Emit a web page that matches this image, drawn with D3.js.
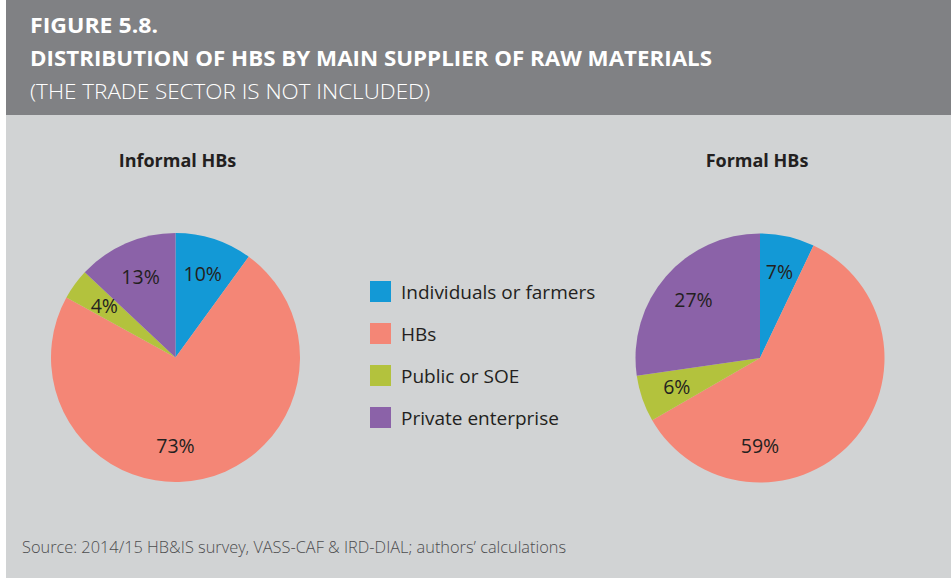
<!DOCTYPE html>
<html>
<head>
<meta charset="utf-8">
<script src="https://cdn.jsdelivr.net/npm/d3@7"></script>
<style>
  body { margin: 0; background: #ffffff; }
  svg { display: block; font-family: 'Open Sans', 'Noto Sans', sans-serif; }
</style>
</head>
<body>
<svg id="chart" width="951" height="578"></svg>
<script>
// data
const categories = ['Individuals or farmers', 'HBs', 'Public or SOE', 'Private enterprise'];
const informal_values = [10, 73, 4, 13];
const formal_values = [7, 59, 6, 27];
const pie_titles = ['Informal HBs', 'Formal HBs'];
const title_lines = [
  'FIGURE 5.8.',
  'DISTRIBUTION OF HBS BY MAIN SUPPLIER OF RAW MATERIALS',
  '(THE TRADE SECTOR IS NOT INCLUDED)',
];
const source_text = 'Source: 2014/15 HB&IS survey, VASS-CAF & IRD-DIAL; authors\u2019 calculations';

const colors = ['#1399d6', '#f48676', '#b3c23d', '#8b62a8'];

const width = 951;
const height = 578;
const svg = d3.select('#chart');

/**
 * Background panels
 */
svg.append('rect')
  .attr('x', 6).attr('y', 0)
  .attr('width', width - 6).attr('height', 115)
  .attr('fill', '#808184');

svg.append('rect')
  .attr('x', 6).attr('y', 115)
  .attr('width', width - 6).attr('height', height - 115)
  .attr('fill', '#d1d3d4');

/**
 * Header text
 */
const title_widths = [128, 682, 400];
svg.selectAll('.title_line')
  .data(title_lines)
  .enter()
  .append('text')
  .attr('class', 'title_line')
  .attr('x', 30)
  .attr('y', (d, i) => 33 + i * 33)
  .attr('fill', '#ffffff')
  .attr('font-size', 21)
  .attr('font-weight', (d, i) => (i < 2 ? 700 : 300))
  .attr('textLength', (d, i) => title_widths[i])
  .attr('lengthAdjust', 'spacingAndGlyphs')
  .text((d) => d);

/**
 * Pies
 */
const color = d3.scaleOrdinal().domain(categories).range(colors);
const radius = 124.5;
const pie = d3.pie().sort(null).value((d) => d.value);
const arc = d3.arc().innerRadius(0).outerRadius(radius);
const label_r = 88;

const pie_centers = [[175.5, 357.5], [760, 358]];
const pie_data = [informal_values, formal_values];

pie_data.forEach((values, k) => {
  const rows = categories.map((c, i) => ({ name: c, value: values[i] }));
  const arcs = pie(rows);
  const g = svg.append('g')
    .attr('transform', `translate(${pie_centers[k][0]},${pie_centers[k][1]})`);

  g.selectAll('.slice')
    .data(arcs)
    .enter()
    .append('path')
    .attr('class', 'slice')
    .attr('d', arc)
    .attr('fill', (d) => color(d.data.name));

  // largest slice gets its label straight below the centre
  const biggest = d3.max(arcs, (d) => d.value);
  g.selectAll('.pct')
    .data(arcs)
    .enter()
    .append('text')
    .attr('class', 'pct')
    .attr('transform', (d) => {
      let a = (d.startAngle + d.endAngle) / 2;
      if (d.value === biggest && d.startAngle < Math.PI && d.endAngle > Math.PI) a = Math.PI;
      return `translate(${label_r * Math.sin(a)},${-label_r * Math.cos(a)})`;
    })
    .attr('text-anchor', 'middle')
    .attr('dy', '0.36em')
    .attr('font-size', 19.5)
    .attr('fill', '#231f20')
    .text((d) => d.data.value + '%');

  svg.append('text')
    .attr('x', pie_centers[k][0] + (k === 0 ? 2 : -3))
    .attr('y', 167)
    .attr('text-anchor', 'middle')
    .attr('font-size', 18)
    .attr('font-weight', 700)
    .attr('fill', '#231f20')
    .text(pie_titles[k]);
});

/**
 * Legend
 */
const legend = svg.append('g').attr('transform', 'translate(370,281)');
const leg = legend.selectAll('.leg')
  .data(categories)
  .enter()
  .append('g')
  .attr('class', 'leg')
  .attr('transform', (d, i) => `translate(0,${i * 42})`);

leg.append('rect')
  .attr('width', 21)
  .attr('height', 21)
  .attr('fill', (d) => color(d));

leg.append('text')
  .attr('x', 31)
  .attr('y', 17.5)
  .attr('font-size', 19)
  .attr('fill', '#231f20')
  .text((d) => d);

/**
 * Source note
 */
svg.append('text')
  .attr('x', 22)
  .attr('y', 553)
  .attr('font-size', 15.5)
  .attr('font-weight', 300)
  .attr('fill', '#4d4d4f')
  .attr('textLength', 544)
  .attr('lengthAdjust', 'spacingAndGlyphs')
  .text(source_text);
</script>
</body>
</html>
